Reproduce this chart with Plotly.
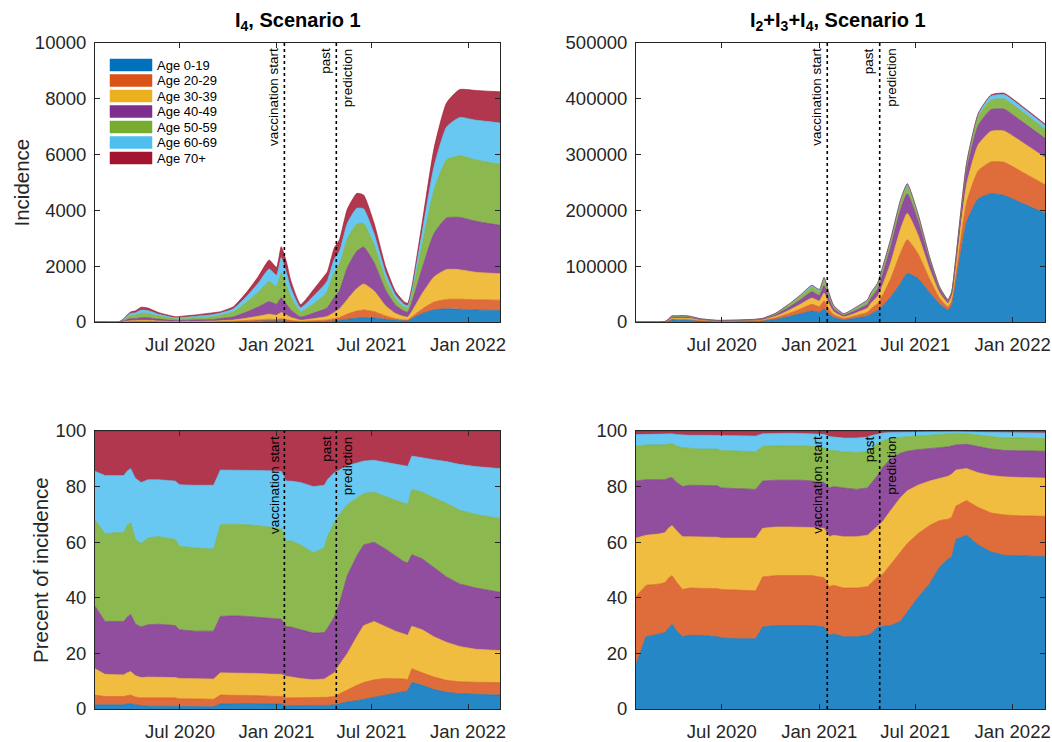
import plotly.graph_objects as go
import numpy as np

# ---------------- data ----------------
dates = ["2020-01-21", "2020-02-09", "2020-03-06", "2020-03-16", "2020-03-22", "2020-03-29", "2020-04-07",
         "2020-04-18", "2020-05-01", "2020-05-21", "2020-06-22", "2020-06-30", "2020-07-28", "2020-09-03",
         "2020-09-16", "2020-10-11", "2020-11-06", "2020-11-27", "2020-12-18", "2021-01-01", "2021-01-10",
         "2021-01-20", "2021-01-28", "2021-02-16", "2021-03-12", "2021-04-02", "2021-04-08", "2021-04-21",
         "2021-05-01", "2021-05-16", "2021-06-03", "2021-06-16", "2021-07-06", "2021-07-28", "2021-08-16",
         "2021-09-01", "2021-09-08", "2021-09-16", "2021-10-06", "2021-10-28", "2021-11-21", "2021-12-16",
         "2022-01-16", "2022-03-03"]

age_groups = ["Age 0-19", "Age 20-29", "Age 30-39", "Age 40-49", "Age 50-59", "Age 60-69", "Age 70+"]

# total incidence (all ages)
total_I4 = [0, 0, 0, 120, 250, 360, 400, 530, 500, 340,
            190, 200, 250, 335, 370, 550, 1090, 1620, 2220, 1960,
            2700, 2150, 1500, 630, 1150, 1650, 1800, 2650, 2950, 4050,
            4610, 4550, 3540, 1980, 1090, 730, 670, 1270, 3600, 6200,
            7850, 8330, 8300, 8250]

total_I234 = [0, 0, 0, 1000, 5000, 11000, 11000, 11500, 10500, 6000,
              3000, 3000, 3500, 5000, 6500, 16000, 33000, 49000, 66000, 58000,
              80000, 50000, 30000, 15000, 27000, 40000, 52000, 70000, 100000, 150000,
              218000, 248000, 195000, 117000, 63000, 40000, 55000, 117000, 285000, 374000,
              407000, 410000, 389000, 355000]

# upper edge (cumulative percent) of each age layer, I4
I4_upper_0_19 = [1.5, 1.5, 1.5, 1.5, 1.8, 2.0, 1.5, 1.2, 1.0, 1.0, 1.0, 1.0, 0.9, 0.8, 1.8, 2.0, 2.0, 1.9, 1.8, 1.8, 1.8, 1.2,
                 1.2, 1.2, 1.2, 1.2, 1.3, 1.5, 2.0, 2.5, 3.0, 3.5, 4.0, 5.0, 5.8, 6.3, 6.5, 9.5, 8.5, 7.0, 6.0, 5.5, 5.2, 5.0]
I4_upper_20_29 = [5.0, 4.5, 4.5, 4.5, 4.8, 5.0, 4.3, 4.0, 4.0, 4.0, 4.0, 3.7, 3.6, 3.5, 5.0, 5.0, 5.0, 4.8, 4.6, 4.5, 4.5, 4.0,
                  4.0, 4.0, 4.0, 4.0, 4.2, 4.5, 5.5, 7.0, 8.5, 9.5, 10.5, 11.0, 11.0, 10.8, 10.5, 14.5, 13.0, 11.5, 10.3, 9.8, 9.6, 9.5]
I4_upper_30_39 = [14.5, 12.5, 12.3, 12.3, 13.0, 13.5, 12.0, 11.3, 11.5, 11.5, 11.3, 11.0, 10.8, 10.8, 13.0, 13.0, 13.0, 12.8, 12.6, 12.5, 12.5, 11.8,
                  11.5, 11.0, 10.5, 10.8, 11.5, 13.0, 16.0, 20.0, 26.0, 30.0, 31.5, 29.5, 28.0, 27.0, 26.5, 29.8, 28.5, 26.0, 24.0, 22.5, 21.5, 21.0]
I4_upper_40_49 = [37.0, 31.5, 31.5, 31.5, 33.0, 34.0, 30.5, 29.5, 30.3, 30.5, 30.0, 28.5, 28.0, 28.0, 33.3, 33.5, 33.3, 33.0, 32.8, 32.5, 32.3, 29.5,
                  29.5, 28.5, 27.3, 27.5, 29.0, 33.0, 38.0, 48.0, 55.0, 59.0, 60.0, 57.5, 55.0, 53.0, 52.5, 55.5, 54.0, 51.0, 47.5, 45.0, 43.5, 42.0]
I4_upper_50_59 = [68.0, 63.0, 63.5, 63.5, 66.0, 67.0, 61.0, 59.5, 61.5, 62.0, 61.0, 58.5, 58.0, 57.5, 66.3, 66.5, 66.3, 66.0, 65.5, 65.0, 64.8, 60.3,
                  60.5, 59.0, 56.2, 58.0, 62.0, 67.0, 70.0, 73.5, 76.0, 77.5, 78.0, 76.5, 75.0, 74.0, 73.5, 79.0, 78.0, 76.0, 74.0, 71.5, 70.0, 68.5]
I4_upper_60_69 = [85.5, 84.0, 84.0, 84.0, 85.5, 86.5, 83.0, 81.5, 82.5, 82.5, 82.0, 80.7, 80.5, 80.5, 86.0, 86.0, 86.0, 85.8, 85.7, 85.5, 85.5, 82.0,
                  82.0, 81.5, 80.0, 80.5, 82.5, 85.0, 86.0, 87.5, 88.5, 89.2, 89.5, 88.7, 88.0, 87.5, 87.3, 91.0, 90.5, 89.7, 89.0, 88.0, 87.2, 86.5]

# upper edge (cumulative percent) of each age layer, I2+I3+I4
I234_upper_0_19 = [16.0, 26.0, 27.0, 27.5, 29.0, 30.5, 28.0, 26.0, 26.5, 26.5, 26.0, 25.5, 25.3, 25.3, 29.5, 30.0, 30.0, 30.0, 30.0, 29.7, 29.5, 26.5,
                   27.0, 26.0, 26.0, 26.5, 27.0, 29.5, 29.7, 30.0, 31.5, 35.0, 40.0, 45.0, 51.0, 54.0, 54.5, 61.0, 62.5, 59.0, 56.5, 55.3, 55.0, 54.8]
I234_upper_20_29 = [40.5, 44.5, 45.0, 45.5, 47.0, 48.0, 45.5, 43.0, 43.5, 43.5, 43.3, 43.0, 42.8, 42.5, 47.5, 48.0, 48.0, 48.0, 48.0, 47.5, 47.3, 44.0,
                    44.5, 43.5, 43.5, 44.0, 45.0, 47.5, 48.5, 52.0, 56.5, 59.5, 63.0, 66.0, 67.8, 68.3, 69.0, 73.0, 75.0, 72.5, 70.5, 69.8, 69.5, 69.3]
I234_upper_30_39 = [61.5, 62.5, 63.0, 63.5, 65.0, 66.0, 64.0, 62.0, 62.0, 62.0, 61.8, 61.5, 61.5, 61.5, 65.0, 65.5, 65.5, 65.5, 65.3, 65.0, 65.0, 62.0,
                    62.5, 62.0, 62.0, 62.5, 63.5, 66.0, 67.5, 71.5, 76.0, 78.5, 80.5, 82.0, 83.0, 83.7, 84.5, 86.0, 86.5, 85.0, 84.0, 83.5, 83.3, 83.1]
I234_upper_40_49 = [82.0, 82.5, 82.5, 82.5, 83.0, 83.2, 81.5, 80.0, 80.5, 80.5, 80.3, 79.5, 79.2, 79.0, 82.0, 82.3, 82.3, 82.3, 82.0, 81.8, 81.5, 79.5,
                    80.0, 79.5, 79.0, 79.5, 81.0, 84.0, 87.0, 90.0, 92.0, 92.7, 93.3, 93.8, 94.0, 94.3, 94.5, 95.0, 95.2, 94.3, 93.5, 93.0, 92.8, 92.7]
I234_upper_50_59 = [94.5, 95.0, 95.0, 95.0, 95.3, 95.5, 94.5, 94.0, 93.8, 93.5, 93.5, 93.0, 92.8, 92.5, 94.5, 94.7, 94.7, 94.7, 94.5, 94.3, 94.0, 93.0,
                    93.0, 92.5, 92.3, 92.5, 93.5, 95.5, 96.5, 97.3, 97.7, 98.0, 98.3, 98.5, 98.7, 99.0, 99.0, 99.2, 99.0, 98.5, 97.8, 97.5, 97.5, 97.3]
I234_upper_60_69 = [98.7, 98.8, 98.8, 98.8, 98.8, 99.0, 98.7, 98.5, 98.5, 98.5, 98.4, 98.2, 98.2, 98.2, 99.0, 99.2, 99.2, 99.1, 99.0, 99.0, 98.8, 98.0,
                    97.8, 97.5, 97.5, 97.8, 98.3, 99.0, 99.3, 99.5, 99.6, 99.7, 99.7, 99.7, 99.7, 99.8, 99.8, 99.8, 99.7, 99.6, 99.5, 99.4, 99.4, 99.3]

vaccination_start = "2021-01-16"
past_prediction = "2021-04-25"

x_range = ["2020-01-21", "2022-03-03"]
x_tickvals = ["2020-07-01", "2021-01-01", "2021-07-01", "2022-01-01"]
x_ticktext = ["Jul 2020", "Jan 2021", "Jul 2021", "Jan 2022"]

line_colors = ["#0072BD", "#D95319", "#EDB120", "#7E2F8E", "#77AC30", "#4DBEEE", "#A2142F"]

# ---------------- helpers ----------------
def shares_from_upper(uppers):
    edges = np.vstack([np.zeros(len(dates))] + [np.array(u) for u in uppers] + [np.full(len(dates), 100.0)])
    return np.diff(edges, axis=0)


def rgba(hexc, a):
    h = hexc.lstrip("#")
    return "rgba(%d,%d,%d,%.2f)" % (int(h[0:2], 16), int(h[2:4], 16), int(h[4:6], 16), a)


W, H = 1052, 742
FONT = "Liberation Sans, Arial, Helvetica, sans-serif"
TXT = "#262626"

shares_I4 = shares_from_upper([I4_upper_0_19, I4_upper_20_29, I4_upper_30_39, I4_upper_40_49,
                               I4_upper_50_59, I4_upper_60_69])
shares_I234 = shares_from_upper([I234_upper_0_19, I234_upper_20_29, I234_upper_30_39, I234_upper_40_49,
                                 I234_upper_50_59, I234_upper_60_69])

fig = go.Figure()

panels = [
    ("x", "y", shares_I4 * np.array(total_I4) / 100.0, "a", "spline"),
    ("x2", "y2", shares_I234 * np.array(total_I234) / 100.0, "b", "spline"),
    ("x3", "y3", shares_I4, "c", "linear"),
    ("x4", "y4", shares_I234, "d", "linear"),
]

for xa, ya, vals, sg, shape in panels:
    for k, name in enumerate(age_groups):
        line = dict(color=line_colors[k], width=0.6, shape=shape)
        if shape == "spline":
            line["smoothing"] = 0.5
        fig.add_trace(go.Scatter(
            x=dates, y=vals[k], name=name, xaxis=xa, yaxis=ya,
            mode="lines", stackgroup=sg,
            line=line,
            fillcolor=rgba(line_colors[k], 0.85),
            showlegend=False, hoverinfo="skip",
        ))

# ---------------- axes ----------------
def px_x(p):
    return p / W


def px_y(p):
    return 1 - p / H


dom_x_left = [px_x(95), px_x(500)]
dom_x_right = [px_x(636), px_x(1045)]
dom_y_top = [px_y(322), px_y(43)]
dom_y_bot = [px_y(709), px_y(431)]

xcommon = dict(type="date", range=x_range, tickvals=x_tickvals, ticktext=x_ticktext,
               ticks="inside", ticklen=5, tickcolor=TXT, showline=True, linecolor=TXT, linewidth=1,
               mirror="ticks", showgrid=False, zeroline=False, automargin=False,
               tickfont=dict(family=FONT, size=18.5, color=TXT), ticklabelstandoff=6)
ycommon = dict(ticks="inside", ticklen=5, tickcolor=TXT, showline=True, linecolor=TXT, linewidth=1,
               mirror="ticks", showgrid=False, zeroline=False, tickformat="d", automargin=False,
               tickfont=dict(family=FONT, size=18.5, color=TXT), ticklabelstandoff=4)

fig.update_layout(
    xaxis=dict(domain=dom_x_left, anchor="y", **xcommon),
    xaxis2=dict(domain=dom_x_right, anchor="y2", **xcommon),
    xaxis3=dict(domain=dom_x_left, anchor="y3", **xcommon),
    xaxis4=dict(domain=dom_x_right, anchor="y4", **xcommon),
    yaxis=dict(domain=dom_y_top, anchor="x", range=[0, 10000], dtick=2000, **ycommon),
    yaxis2=dict(domain=dom_y_top, anchor="x2", range=[0, 500000], dtick=100000, **ycommon),
    yaxis3=dict(domain=dom_y_bot, anchor="x3", range=[0, 100], dtick=20, **ycommon),
    yaxis4=dict(domain=dom_y_bot, anchor="x4", range=[0, 100], dtick=20, **ycommon),
)

# vertical dotted lines and labels
ann_font = dict(family=FONT, size=13.5, color="#000000")
for xa, ya in [("x", "y"), ("x2", "y2"), ("x3", "y3"), ("x4", "y4")]:
    for d in (vaccination_start, past_prediction):
        fig.add_shape(type="line", x0=d, x1=d, y0=0, y1=1, xref=xa, yref=ya + " domain",
                      line=dict(color="#000000", width=1.6, dash="dot"), layer="above")
    fig.add_annotation(x=vaccination_start, y=1, xref=xa, yref=ya + " domain", text="vaccination start",
                       textangle=-90, xanchor="right", yanchor="top", showarrow=False,
                       xshift=-1, yshift=-3, font=ann_font)
    fig.add_annotation(x=past_prediction, y=1, xref=xa, yref=ya + " domain", text="past",
                       textangle=-90, xanchor="right", yanchor="top", showarrow=False,
                       xshift=-1, yshift=-3, font=ann_font)
    fig.add_annotation(x=past_prediction, y=1, xref=xa, yref=ya + " domain", text="prediction",
                       textangle=-90, xanchor="left", yanchor="top", showarrow=False,
                       xshift=2, yshift=-3, font=ann_font)

# manual legend (top-left panel), MATLAB style
leg_left, leg_top, leg_step = 110, 65, 15.5
for k, name in enumerate(age_groups):
    yc = leg_top + k * leg_step
    fig.add_shape(type="rect", xref="paper", yref="paper",
                  x0=px_x(leg_left), x1=px_x(leg_left + 42), y0=px_y(yc + 6), y1=px_y(yc - 6),
                  fillcolor=line_colors[k], line=dict(color=line_colors[k], width=0.5), layer="above")
    fig.add_annotation(x=px_x(leg_left + 45), y=px_y(yc), xref="paper", yref="paper", text=name,
                       showarrow=False, xanchor="left", yanchor="middle",
                       font=dict(family=FONT, size=13, color="#000000"))

# titles
title_font = dict(family=FONT, size=20, color="#000000")
fig.add_annotation(x=px_x(297.5), y=px_y(22), xref="paper", yref="paper",
                   text="<b>I<sub>4</sub>, Scenario 1</b>", showarrow=False,
                   xanchor="center", yanchor="middle", font=title_font)
fig.add_annotation(x=px_x(838), y=px_y(22), xref="paper", yref="paper",
                   text="<b>I<sub>2</sub>+I<sub>3</sub>+I<sub>4</sub>, Scenario 1</b>", showarrow=False,
                   xanchor="center", yanchor="middle", font=title_font)

# y titles
ytitle_font = dict(family=FONT, size=20.5, color=TXT)
fig.add_annotation(x=px_x(21), y=px_y(182.5), xref="paper", yref="paper", text="Incidence",
                   textangle=-90, showarrow=False, xanchor="center", yanchor="middle", font=ytitle_font)
fig.add_annotation(x=px_x(40), y=px_y(570), xref="paper", yref="paper", text="Precent of incidence",
                   textangle=-90, showarrow=False, xanchor="center", yanchor="middle", font=ytitle_font)

fig.update_layout(
    width=W, height=H,
    autosize=False,
    margin=dict(l=0, r=0, t=0, b=0, pad=0, autoexpand=False),
    paper_bgcolor="white", plot_bgcolor="white",
    font=dict(family=FONT, color=TXT),
    showlegend=False,
)

fig.write_html("out.html", config={"displayModeBar": False},
               post_script="document.body.style.margin='0';document.body.style.padding='0';"
                           "document.documentElement.style.overflow='hidden';")
